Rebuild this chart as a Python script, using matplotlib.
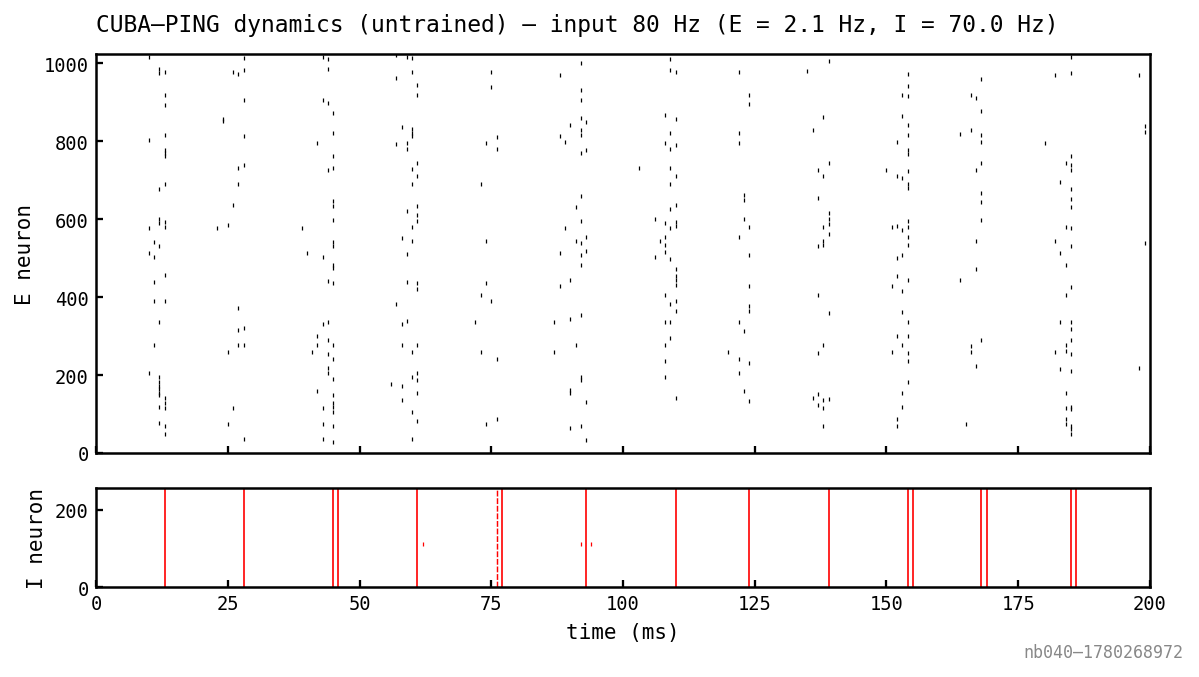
import matplotlib
matplotlib.use('Agg')
import matplotlib.pyplot as plt

plt.rcParams['font.family'] = ['DejaVu Sans Mono', 'DejaVu Sans']

# E spikes (time ms, neuron id)
e_spikes = [
    (10, 1017), (12, 985), (12, 976), (13, 979), (13, 920), (13, 894), (24, 858), (24, 852),
    (13, 815), (10, 802), (13, 778), (13, 769), (13, 761), (13, 690), (12, 678), (12, 600),
    (12, 591), (13, 594), (13, 581), (10, 578), (23, 578), (25, 586), (11, 542), (12, 532),
    (10, 514), (11, 502), (13, 456), (11, 440), (11, 389), (13, 389), (12, 336), (11, 277),
    (25, 258), (10, 204), (12, 196), (12, 181), (12, 172), (12, 164), (12, 155), (12, 150),
    (13, 141), (13, 128), (13, 115), (12, 117), (12, 78), (13, 68), (13, 48), (25, 74),
    (28, 1013), (43, 1017), (44, 1010), (44, 985), (26, 979), (27, 972), (28, 982), (28, 905),
    (43, 905), (44, 899), (45, 873), (28, 814), (45, 821), (42, 796), (45, 761), (27, 732),
    (28, 740), (44, 726), (45, 732), (27, 690), (26, 636), (45, 647), (45, 634), (45, 599),
    (39, 578), (45, 542), (45, 531), (40, 514), (43, 502), (45, 483), (45, 474), (44, 442),
    (45, 436), (27, 371), (43, 330), (44, 337), (27, 315), (28, 320), (42, 301), (44, 289),
    (27, 276), (28, 278), (42, 276), (45, 277), (41, 258), (44, 255), (45, 240), (44, 217),
    (44, 205), (45, 189), (42, 158), (45, 150), (45, 128), (45, 117), (45, 104), (26, 115),
    (43, 115), (43, 74), (45, 68), (28, 35), (43, 35), (45, 27),
    (57, 1021), (59, 1017), (60, 1014), (60, 977), (75, 979), (57, 963), (61, 945), (75, 940),
    (61, 920), (58, 837), (60, 831), (60, 822), (60, 814), (57, 792), (59, 796), (59, 779),
    (74, 796), (61, 743), (60, 730), (61, 712), (60, 690), (73, 690), (61, 634), (59, 622),
    (61, 612), (61, 595), (60, 579), (58, 553), (60, 543), (74, 543), (59, 510), (59, 440),
    (61, 437), (61, 422), (74, 437), (73, 405), (75, 389), (57, 382), (58, 330), (59, 338),
    (72, 337), (58, 276), (61, 278), (60, 259), (73, 259), (61, 204), (60, 196), (61, 187),
    (56, 178), (58, 171), (61, 154), (58, 135), (60, 106), (61, 81), (74, 74), (60, 35),
    (92, 1002), (88, 971), (92, 931), (92, 905), (92, 860), (93, 850), (90, 843), (92, 830),
    (92, 815), (88, 813), (89, 797), (76, 810), (76, 779), (92, 769), (93, 777), (92, 660),
    (91, 631), (92, 595), (89, 578), (93, 554), (91, 543), (92, 539), (88, 514), (93, 519),
    (92, 507), (92, 482), (90, 443), (88, 428), (92, 354), (90, 345), (87, 337), (91, 277),
    (87, 259), (76, 241), (92, 196), (92, 188), (90, 161), (90, 155), (93, 132), (76, 87),
    (92, 70), (90, 63), (93, 33),
    (109, 1010), (109, 983), (110, 978), (122, 979), (124, 920), (124, 895), (108, 867), (110, 858),
    (109, 820), (122, 820), (108, 796), (110, 790), (109, 779), (122, 796), (103, 731), (109, 732),
    (110, 711), (109, 690), (123, 662), (123, 648), (110, 637), (109, 627), (106, 601), (108, 589),
    (110, 592), (110, 582), (109, 577), (123, 601), (124, 579), (108, 554), (107, 543), (108, 533),
    (122, 554), (108, 515), (106, 502), (109, 498), (124, 507), (110, 471), (110, 455), (110, 443),
    (110, 430), (124, 429), (108, 405), (110, 389), (109, 383), (110, 364), (124, 378), (124, 364),
    (108, 337), (109, 336), (122, 336), (123, 314), (109, 295), (108, 277), (120, 259), (108, 236),
    (122, 241), (124, 232), (108, 196), (122, 204), (123, 158), (110, 141), (124, 133),
    (139, 1007), (135, 981), (138, 861), (136, 830), (139, 743), (137, 725), (138, 712), (150, 726),
    (137, 654), (139, 617), (139, 600), (139, 587), (138, 579), (139, 561), (138, 544), (138, 535),
    (137, 532), (137, 406), (139, 360), (138, 276), (137, 257), (137, 152), (136, 141), (138, 135),
    (139, 138), (137, 123), (138, 115), (138, 69),
    (154, 972), (168, 961), (154, 941), (153, 919), (154, 917), (166, 920), (167, 910), (168, 878),
    (153, 864), (154, 841), (166, 830), (154, 816), (164, 819), (168, 815), (152, 797), (168, 797),
    (154, 778), (154, 767), (168, 743), (154, 724), (167, 726), (152, 712), (153, 707), (154, 690),
    (154, 679), (168, 666), (168, 644), (168, 599), (154, 596), (151, 580), (152, 582), (153, 572),
    (154, 580), (154, 554), (167, 543), (154, 533), (152, 500), (153, 507), (167, 472), (152, 454),
    (154, 445), (164, 445), (151, 428), (153, 415), (153, 361), (154, 336), (152, 299), (154, 299),
    (153, 278), (168, 290), (166, 275), (151, 258), (154, 256), (166, 260), (154, 236), (167, 222),
    (154, 183), (153, 153), (153, 119), (152, 86), (152, 69), (165, 74),
    (185, 1017), (182, 971), (185, 976), (198, 971), (199, 840), (199, 823), (180, 796), (185, 761),
    (184, 743), (185, 740), (185, 725), (183, 695), (185, 678), (185, 653), (185, 632), (184, 581),
    (185, 578), (182, 545), (199, 540), (185, 532), (183, 514), (184, 482), (185, 427), (184, 405),
    (183, 336), (185, 337), (185, 319), (185, 291), (184, 276), (182, 258), (184, 261), (185, 255),
    (183, 215), (198, 218), (185, 210), (184, 153), (184, 115), (185, 118), (185, 112), (184, 86),
    (184, 74), (185, 68), (185, 62), (185, 48),
]

# I population: times where (nearly) all 256 cells fire together
i_sync_times = [13, 28, 45, 46, 61, 77, 93, 110, 124, 139, 154, 155, 168, 169, 185, 186]
i_partial_times = [76]
# lone I spikes (time ms, neuron id)
i_lone = [(62, 112), (92, 112), (94, 112)]

n_e = 1024
n_i = 256
t_max = 200

e_t = [s[0] for s in e_spikes]
e_id = [s[1] for s in e_spikes]

fig = plt.figure(figsize=(1199 / 150, 678 / 150), dpi=150)
ax1 = fig.add_axes([0.0801, 0.3304, 0.8790, 0.5885])
ax2 = fig.add_axes([0.0801, 0.1327, 0.8790, 0.1461])

ax1.plot(e_t, e_id, '|', color='black', ms=2.0, mew=0.6)
ax1.set_xlim(0, t_max)
ax1.set_ylim(0, n_e)
ax1.set_yticks([0, 200, 400, 600, 800, 1000])
ax1.set_xticks(range(0, 201, 25))
ax1.set_xticklabels([])
ax1.set_ylabel('E neuron', fontsize=10)
ax1.set_title('CUBA\u2013PING dynamics (untrained) \u2014 input 80 Hz (E = 2.1 Hz, I = 70.0 Hz)',
              loc='left', fontsize=11, pad=11)

ax2.vlines(i_sync_times, 0, n_i, color='red', lw=0.8)
ax2.vlines(i_partial_times, 0, n_i, color='red', lw=0.7, linestyles=(0, (4, 1.2)))
ax2.plot([s[0] for s in i_lone], [s[1] for s in i_lone], '|', color='red', ms=1.5, mew=0.6)
ax2.set_xlim(0, t_max)
ax2.set_ylim(0, n_i)
ax2.set_yticks([0, 200])
ax2.set_xticks(range(0, 201, 25))
ax2.set_ylabel('I neuron', fontsize=10)
ax2.set_xlabel('time (ms)', fontsize=10)

for ax in (ax1, ax2):
    for sp in ax.spines.values():
        sp.set_linewidth(1.2)
    ax.tick_params(direction='in', length=3.5, width=1.1, labelsize=9)

fig.text(0.987, 0.037, 'nb040\u20131780268972', ha='right', va='center',
         color='#888888', fontsize=8)

fig.savefig('out.png', dpi=150)
